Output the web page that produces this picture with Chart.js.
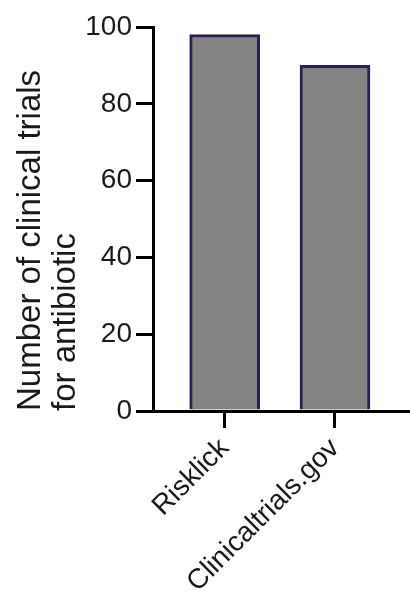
<!DOCTYPE html>
<html lang="en">
<head>
  <meta charset="UTF-8" />
  <title>Clinical trials for antibiotic</title>
  <script src="https://cdn.jsdelivr.net/npm/chart.js"></script>
  <style>
    html, body { margin: 0; padding: 0; background: #fff; }
  </style>
</head>
<body>
  <canvas id="trialsChart" width="410" height="597"></canvas>

  <script>
    // data
    const categories = ['Risklick', 'Clinicaltrials.gov'];
    const trialCounts = [98, 90];
    const yTicks = [0, 20, 40, 60, 80, 100];
    const yTitle = ['Number of clinical trials', 'for antibiotic'];

    const fontFamily = "'Liberation Sans', Arial, sans-serif";
    const ink = '#1a1a1a';

    const ctx = document.getElementById('trialsChart').getContext('2d');
    new Chart(ctx, {
      type: 'bar',
      data: {
        datasets: [{
          data: categories.map((c, i) => ({ x: i, y: trialCounts[i] })),
          backgroundColor: '#838383',
          borderColor: '#2d1f50',
          borderWidth: 3,
          barThickness: 70
        }]
      },
      options: {
        responsive: false,
        animation: false,
        layout: { padding: { top: 27, right: 0, left: 0, bottom: 0 } },
        plugins: {
          legend: { display: false },
          tooltip: { enabled: false }
        },
        scales: {
          x: {
            type: 'linear',
            offset: false,
            min: -0.65,
            max: 1.68,
            afterBuildTicks: s => { s.ticks = categories.map((c, i) => ({ value: i })); },
            afterFit: s => { s.height = 186; },
            ticks: {
              autoSkip: false,
              minRotation: 45,
              maxRotation: 45,
              padding: 4,
              color: ink,
              font: { family: fontFamily, size: 28 },
              callback: v => categories[v]
            },
            grid: {
              offset: false,
              drawOnChartArea: false,
              drawTicks: true,
              tickLength: 17,
              lineWidth: 3,
              color: '#000'
            },
            border: { display: true, color: '#000', width: 3 }
          },
          y: {
            min: 0,
            max: 100,
            afterBuildTicks: s => { s.ticks = yTicks.map(v => ({ value: v })); },
            afterFit: s => { s.width = 153; },
            ticks: {
              padding: 4,
              color: ink,
              font: { family: fontFamily, size: 28 }
            },
            grid: {
              drawOnChartArea: false,
              drawTicks: true,
              tickLength: 17,
              lineWidth: 3,
              color: '#000'
            },
            border: { display: true, color: '#000', width: 3 },
            title: {
              display: true,
              text: yTitle,
              align: 'start',
              color: ink,
              padding: { top: 13, bottom: 0 },
              font: { family: fontFamily, size: 33, lineHeight: 1.07 }
            }
          }
        }
      }
    });
  </script>
</body>
</html>
